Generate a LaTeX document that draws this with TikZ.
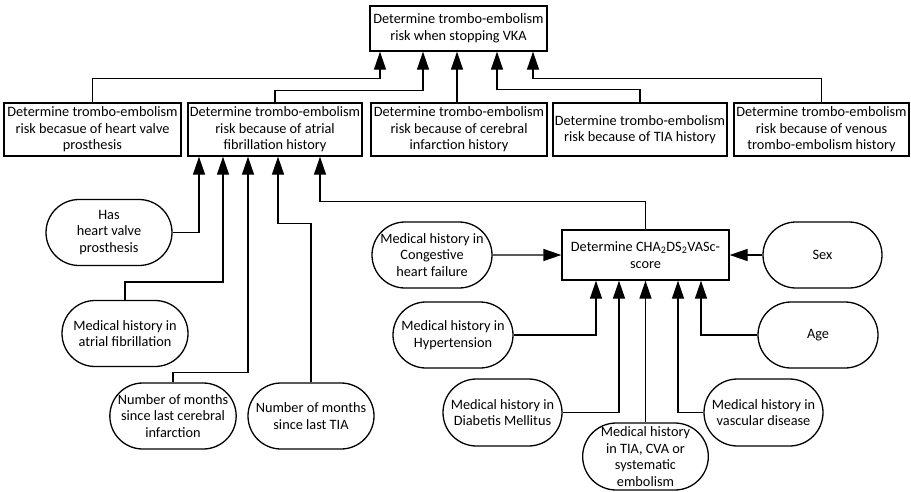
\documentclass[tikz,border=0pt]{standalone}
\usepackage{fontspec}
\setmainfont{Carlito}
\usepackage{tikz}
\usetikzlibrary{arrows.meta,shapes.misc}

\begin{document}
\begin{tikzpicture}[
  x=1pt, y=-1pt, % pixel units, y going down
  >={Triangle[length=18pt,width=12pt]}, % arrow head style
  line width=1.3pt, % line style
  font=\fontsize{14.3}{16.5}\selectfont
  ]

  \tikzstyle{goal}=[
    draw = black,
    rectangle,
    align = center,
    inner sep = 0pt,
    minimum height = 53pt
  ]
  \tikzstyle{input}=[
    draw = black,
    rounded rectangle,
    align = center,
    inner sep = 0pt,
    minimum width = 120pt,
    minimum height = 66pt
  ]

\useasboundingbox (0,0) rectangle (911,491);

% top goal
\node[goal, minimum width=177pt, minimum height=45pt] (Top) at (458.5,28.5) {Determine trombo-embolism\\risk when stopping VKA};

% second row
\node[goal, minimum width=177pt] (Valve) at (92.5,129.5) {Determine trombo-embolism\\risk becasue of heart valve\\prosthesis};
\node[goal, minimum width=174pt] (Atrial) at (275,129.5) {Determine trombo-embolism\\risk because of atrial\\fibrillation history};
\node[goal, minimum width=176pt] (Cerebral) at (459,129.5) {Determine trombo-embolism\\risk because of cerebral\\infarction history};
\node[goal, minimum width=174pt] (TIA) at (640,129.5) {Determine trombo-embolism\\risk because of TIA history};
\node[goal, minimum width=175pt] (Venous) at (821.5,129.5) {Determine trombo-embolism\\risk because of venous\\trombo-embolism history};

% inputs of atrial fibrillation
\node[input, minimum width=126pt] (HasValve) at (109,232.5) {Has\\heart valve\\prosthesis};
\node[input, minimum width=126pt] (HistAF) at (125,333.5) {Medical history in\\atrial fibrillation};
\node[input, minimum width=126pt] (MonthsCI) at (173,416) {Number of months\\since last cerebral\\infarction};
\node[input, minimum width=126pt] (MonthsTIA) at (311,416) {Number of months\\since last TIA};

% score
\node[goal, minimum width=167pt, minimum height=50pt] (Score) at (645.5,255) {Determine CHA\textsubscript{2}DS\textsubscript{2}VASc-\\score};

\node[input] (HistCHF) at (432,255) {Medical history in\\Congestive\\heart failure};
\node[input, minimum width=119pt] (Sex) at (822.5,255) {Sex};
\node[input] (HistHT) at (453,335) {Medical history in\\Hypertension};
\node[input] (Age) at (818,335) {Age};
\node[input, minimum width=119pt, minimum height=67pt] (HistDM) at (502.5,412.5) {Medical history in\\Diabetis Mellitus};
\node[input, minimum width=119pt, minimum height=67pt] (HistCVA) at (645.5,456.5) {Medical history\\in TIA, CVA or\\systematic\\embolism};
\node[input, minimum width=119pt, minimum height=67pt] (HistVD) at (763.5,412.5) {Medical history in\\vascular disease};

% to top goal
\draw[->] (Valve.north) -- ++(0,-24) -| ([xshift=-78.5pt]Top.south);
\draw[->] (Atrial.north) -- ++(0,-12) -| ([xshift=-35.5pt]Top.south);
\draw[->] ([xshift=-2pt]Cerebral.north) -- ([xshift=-1.5pt]Top.south);
\draw[->] (TIA.north) -- ++(0,-13) -| ([xshift=38.5pt]Top.south);
\draw[->] (Venous.north) -- ++(0,-24) -| ([xshift=74.5pt]Top.south);

% to atrial fibrillation
\draw[->] (HasValve.east) -| ([xshift=-76pt]Atrial.south);
\draw[->] (HistAF.north) -- ++(0,-18) -| ([xshift=-52pt]Atrial.south);
\draw[->] (MonthsCI.north) -- ++(0,-10) -| ([xshift=-27pt]Atrial.south);
\draw[->] (MonthsTIA.north) -- ++(0,-159) -| ([xshift=3pt]Atrial.south);
\draw[->] (Score.north) -- ++(0,-28) -| ([xshift=45pt]Atrial.south);

% to score
\path [->] (HistCHF) edge (Score);
\path [->] (Sex) edge (Score);
\draw[->] (HistHT.east) -| ([xshift=-49.5pt]Score.south);
\draw[->] (HistDM.east) -| ([xshift=-26.5pt]Score.south);
\draw[->] (HistCVA.north) -- (Score.south);
\draw[->] (HistVD.west) -| ([xshift=32.5pt]Score.south);
\draw[->] (Age.west) -| ([xshift=55.5pt]Score.south);
\end{tikzpicture}
\end{document}
